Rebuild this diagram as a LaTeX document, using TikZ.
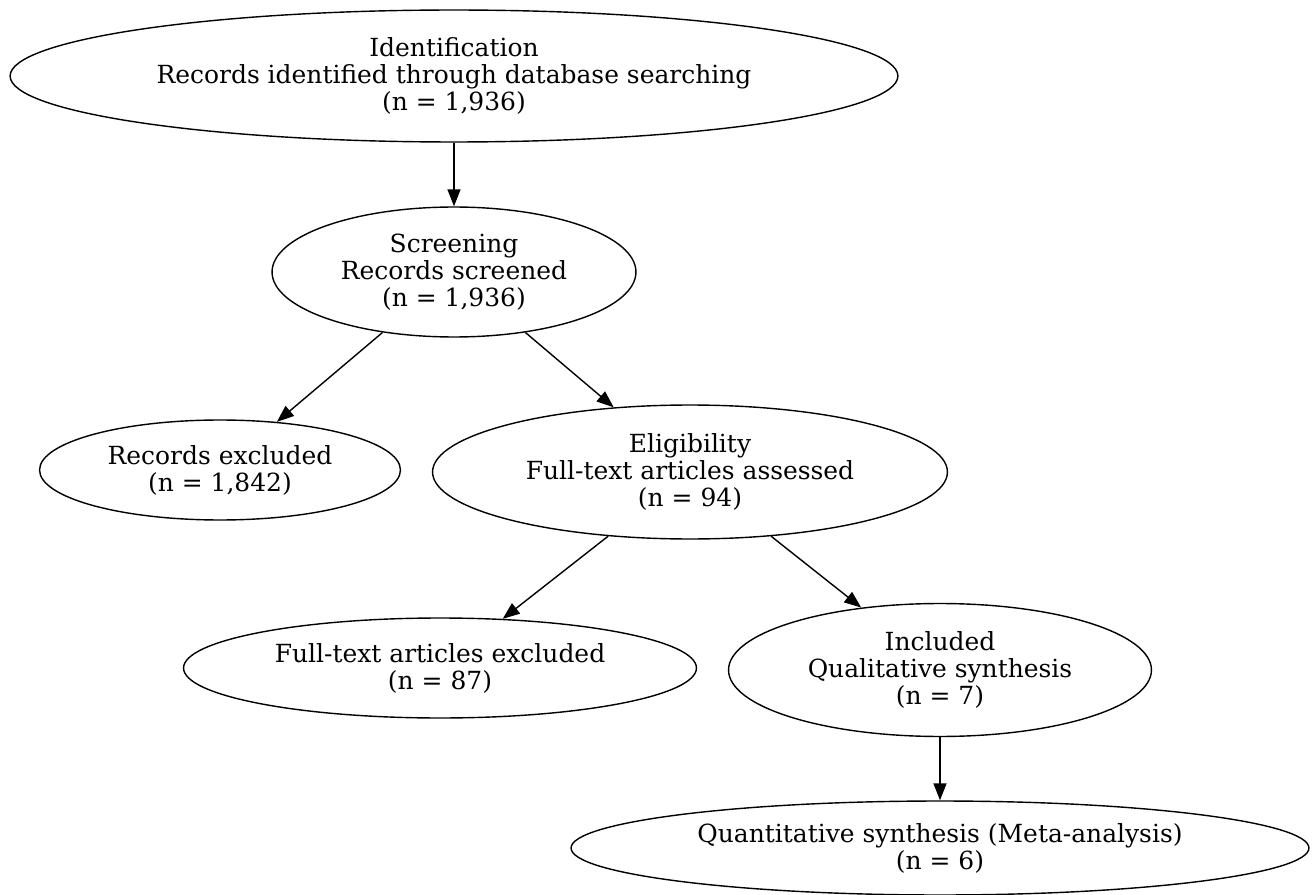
\documentclass[tikz,border=0pt]{standalone}
\usepackage{fontspec}
\setmainfont{DejaVu Serif}
\usetikzlibrary{shapes.geometric,arrows.meta}

\begin{document}
\begin{tikzpicture}[x=0.02cm, y=-0.02cm,
		box/.style={draw, ellipse, line width=0.8pt, inner sep=0pt, align=center,
			font=\fontsize{14.2}{15.4}\selectfont},
		flow/.style={-{Triangle[length=3.4mm,width=2.6mm]}, line width=0.8pt}]
		\useasboundingbox (0,0) rectangle (1312,895);
		
		\node[box, minimum width=17.76cm, minimum height=2.64cm] (ident) at (454,76)
		{Identification\\Records identified through database searching\\(n = 1,936)};
		\node[box, minimum width=7.28cm, minimum height=2.6cm] (screen) at (454,272)
		{Screening\\Records screened\\(n = 1,936)};
		\node[box, minimum width=7.22cm, minimum height=2cm] (recexcl) at (220,470)
		{Records excluded\\(n = 1,842)};
		\node[box, minimum width=10.3cm, minimum height=2.68cm] (elig) at (690,472)
		{Eligibility\\Full-text articles assessed\\(n = 94)};
		\node[box, minimum width=10.26cm, minimum height=2cm] (ftexcl) at (440,668)
		{Full-text articles excluded\\(n = 87)};
		\node[box, minimum width=8.46cm, minimum height=2.66cm] (incl) at (940,670)
		{Included\\Qualitative synthesis\\(n = 7)};
		\node[box, minimum width=14.76cm, minimum height=1.88cm] (quant) at (940,848)
		{Quantitative synthesis (Meta-analysis)\\(n = 6)};
		
		\draw[flow] (ident) -- (screen);
		\draw[flow] (screen) -- (recexcl);
		\draw[flow] (screen) -- (elig);
		\draw[flow] (elig) -- (ftexcl);
		\draw[flow] (elig) -- (incl);
		\draw[flow] (incl) -- (quant);
		
\end{tikzpicture}
\end{document}
